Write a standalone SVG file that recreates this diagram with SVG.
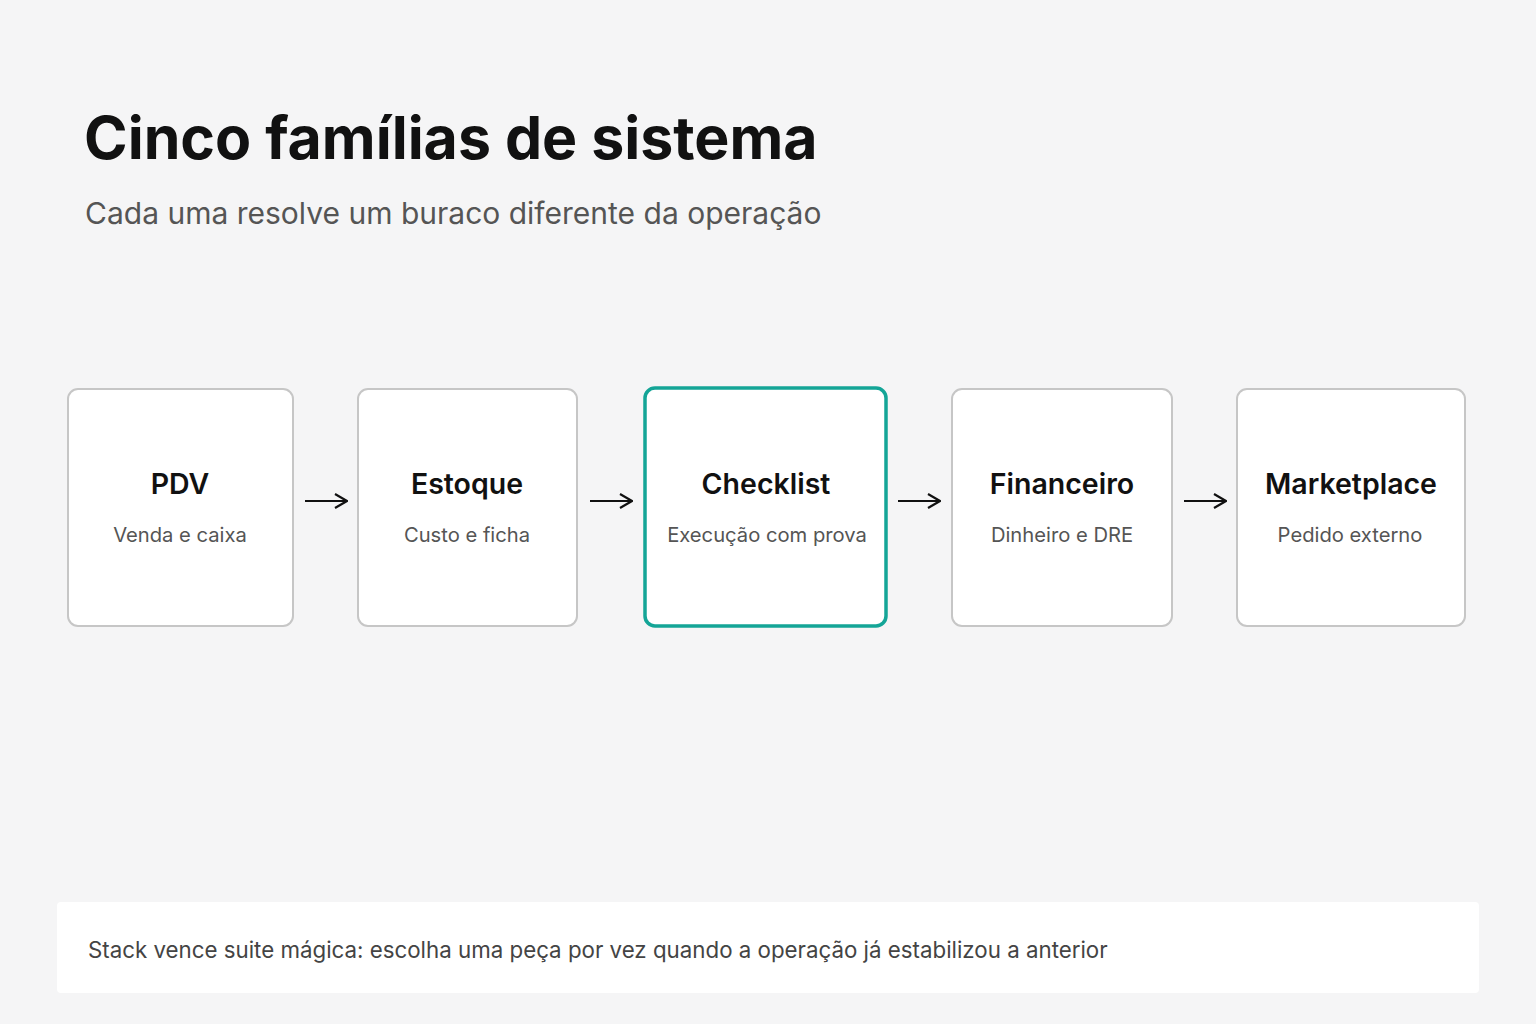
<svg xmlns="http://www.w3.org/2000/svg" width="1536" height="1024" viewBox="0 0 1536 1024">
<style>
.box{fill:#fff;stroke:#c6c6c6;stroke-width:2}
.hl{fill:#fff;stroke:#14a597;stroke-width:3.5}
.t{font-family:Inter,"Liberation Sans",sans-serif;font-size:28.5px;font-weight:600;fill:#111;text-anchor:middle}
.s{font-family:Inter,"Liberation Sans",sans-serif;font-size:20.2px;fill:#555;text-anchor:middle}
.a{stroke:#111;stroke-width:2.2;fill:none}
</style>
<defs><marker id="m" viewBox="0 0 16 16" refX="15" refY="8" markerWidth="16" markerHeight="16" markerUnits="userSpaceOnUse" orient="auto"><path d="M3,1 L15,8 L3,15" fill="none" stroke="#111" stroke-width="2.2"/></marker></defs>
<rect width="1536" height="1024" fill="#f5f5f6"/>
<text x="84" y="159" font-family="Inter,'Liberation Sans',sans-serif" font-size="59" font-weight="700" fill="#111">Cinco famílias de sistema</text>
<text x="85" y="224" font-family="Inter,'Liberation Sans',sans-serif" font-size="30" fill="#555">Cada uma resolve um buraco diferente da operação</text>
<g id="pdv"><rect class="box" x="68" y="389" width="225" height="237" rx="10"/><text class="t" x="180" y="494">PDV</text><text class="s" x="180" y="542">Venda e caixa</text></g>
<g id="estoque"><rect class="box" x="358" y="389" width="219" height="237" rx="10"/><text class="t" x="467" y="494">Estoque</text><text class="s" x="467" y="542">Custo e ficha</text></g>
<g id="checklist"><rect class="hl" x="645" y="388" width="241" height="238" rx="10"/><text class="t" x="766" y="494">Checklist</text><text class="s" x="767" y="542">Execução com prova</text></g>
<g id="financeiro"><rect class="box" x="952" y="389" width="220" height="237" rx="10"/><text class="t" x="1062" y="494">Financeiro</text><text class="s" x="1062" y="542">Dinheiro e DRE</text></g>
<g id="marketplace"><rect class="box" x="1237" y="389" width="228" height="237" rx="10"/><text class="t" x="1351" y="494">Marketplace</text><text class="s" x="1350" y="542">Pedido externo</text></g>
<g id="connectors">
<path class="a" d="M305,501 H347" marker-end="url(#m)"/>
<path class="a" d="M590,501 H632" marker-end="url(#m)"/>
<path class="a" d="M898,501 H940" marker-end="url(#m)"/>
<path class="a" d="M1184,501 H1226" marker-end="url(#m)"/>
</g>
<g id="footer"><rect x="57" y="902" width="1422" height="91" rx="4" fill="#fff"/>
<text x="88" y="958" font-family="Inter,'Liberation Sans',sans-serif" font-size="22.3" fill="#444">Stack vence suite mágica: escolha uma peça por vez quando a operação já estabilizou a anterior</text></g>
</svg>
